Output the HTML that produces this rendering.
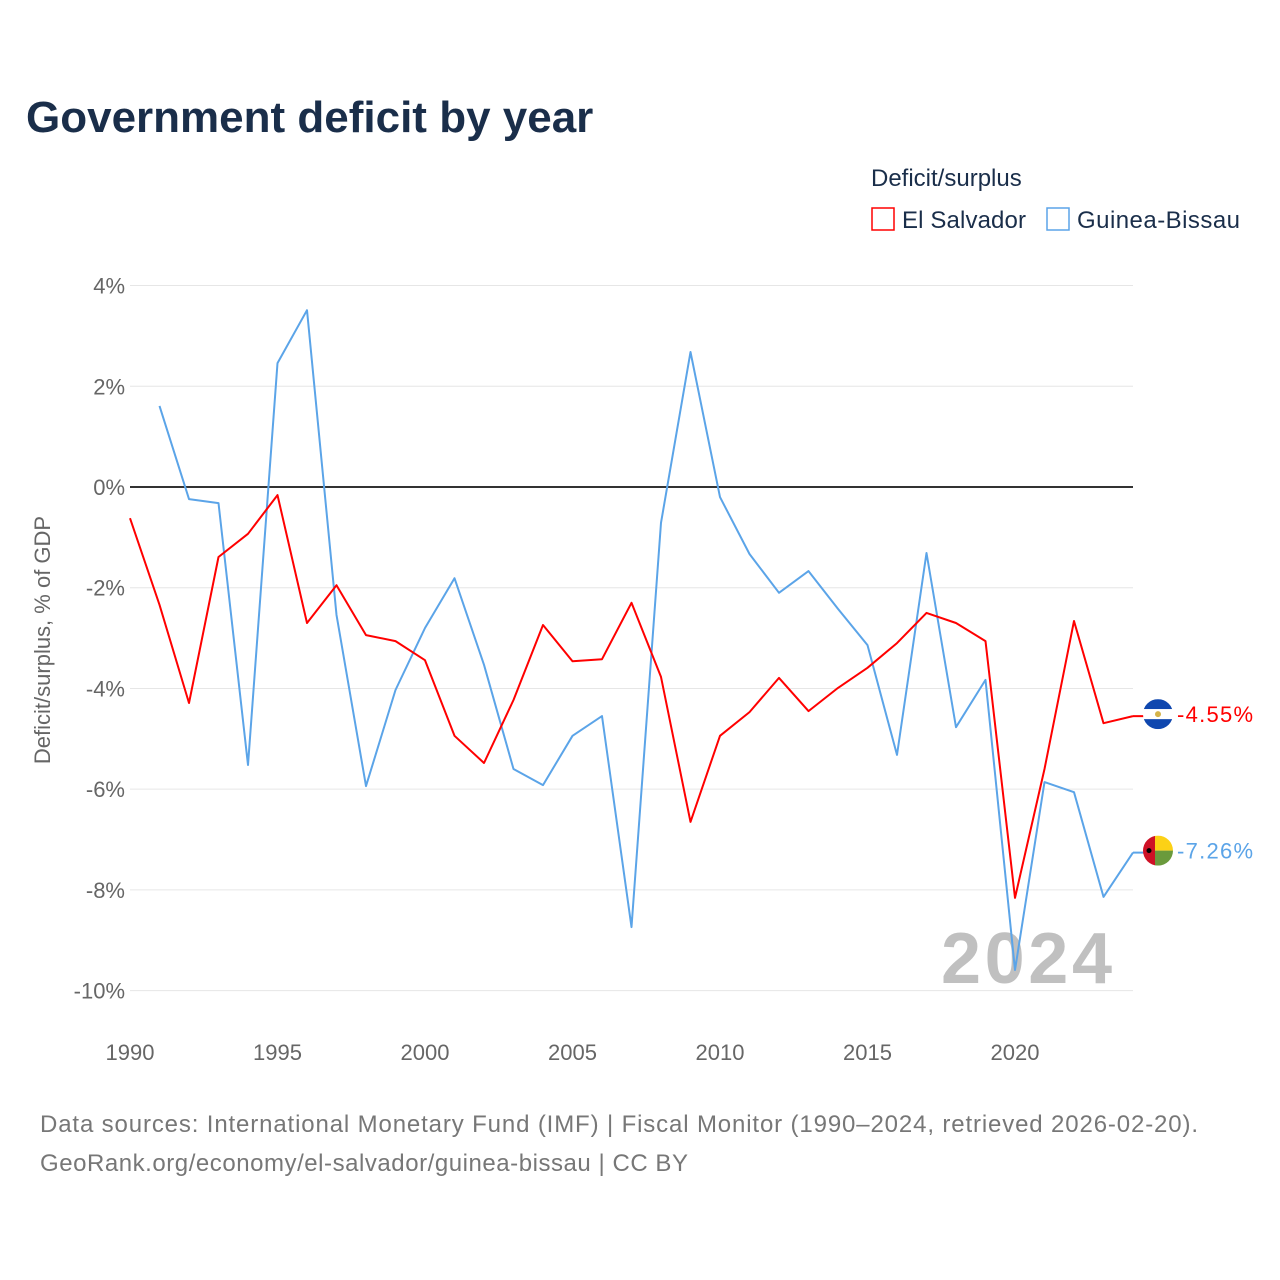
<!DOCTYPE html>
<html><head><meta charset="utf-8">
<style>
body{margin:0;background:#fff;font-family:"Liberation Sans",sans-serif;}
#wrap{position:relative;width:1280px;height:1280px;overflow:hidden;}
</style></head>
<body>
<div id="wrap">
<svg id="chart" width="1280" height="1280" xmlns="http://www.w3.org/2000/svg"></svg>
</div>
<script>
const years = [];
for (let y = 1990; y <= 2024; y++) years.push(y);
const elSalvador = [-0.62,-2.34,-4.29,-1.39,-0.93,-0.16,-2.70,-1.95,-2.94,-3.06,-3.44,-4.94,-5.48,-4.23,-2.74,-3.46,-3.42,-2.30,-3.77,-6.65,-4.94,-4.47,-3.79,-4.45,-3.99,-3.59,-3.10,-2.50,-2.70,-3.06,-8.16,-5.6,-2.66,-4.69,-4.55];
const guineaBissau = [null,1.61,-0.24,-0.32,-5.52,2.46,3.51,-2.54,-5.94,-4.03,-2.80,-1.81,-3.53,-5.60,-5.92,-4.94,-4.55,-8.74,-0.71,2.68,-0.20,-1.33,-2.10,-1.67,-2.42,-3.14,-5.32,-1.31,-4.77,-3.83,-9.59,-5.86,-6.06,-8.14,-7.26];
const yTicks = [4,2,0,-2,-4,-6,-8,-10];
const xTicks = [1990,1995,2000,2005,2010,2015,2020];

const NS = "http://www.w3.org/2000/svg";
const svg = document.getElementById('chart');
const X = v => 130 + (v - 1990) * 29.5;
const Y = v => 487 - v * 50.36;
function el(tag, attrs, parent, text) {
  const e = document.createElementNS(NS, tag);
  for (const k in attrs) e.setAttribute(k, attrs[k]);
  if (text !== undefined) e.textContent = text;
  (parent || svg).appendChild(e);
  return e;
}
let t;
t = el('text',{x:26,y:132,'font-size':44,'font-weight':'bold',fill:'#1a2e4a'},svg,'Government deficit by year');


t = el('text',{x:871,y:186,'font-size':24,fill:'#1a2e4a'},svg,'Deficit/surplus');


const lg1 = el('g',{});


el('rect',{x:872,y:208,width:22,height:22,fill:'none',stroke:'#ff0000','stroke-width':1.5},lg1);
el('text',{x:902,y:228,'font-size':24,fill:'#1a2e4a',textLength:124},lg1,'El Salvador');
const lg2 = el('g',{});


el('rect',{x:1047,y:208,width:22,height:22,fill:'none',stroke:'#5ba4e8','stroke-width':1.5},lg2);
el('text',{x:1077,y:228,'font-size':24,fill:'#1a2e4a',textLength:163},lg2,'Guinea-Bissau');

yTicks.forEach(v => {
  const g = el('line',{x1:130,x2:1133,y1:Y(v),y2:Y(v),stroke:v===0?'#333':'#e6e6e6','stroke-width':v===0?2:1});
  
  
  const tx = el('text',{x:125,y:Y(v)+8,'font-size':22,fill:'#666','text-anchor':'end'},svg,v+'%');
  
  
});
xTicks.forEach(v => {
  const tx = el('text',{x:X(v),y:1060,'font-size':22,fill:'#666','text-anchor':'middle'},svg,String(v));
  
  
});
t = el('text',{transform:'translate(50,640) rotate(-90)','font-size':22,fill:'#666','text-anchor':'middle'},svg,'Deficit/surplus, % of GDP');


t = el('text',{x:941,y:983,'font-size':72,'font-weight':'bold',fill:'#c0c0c0',textLength:171},svg,'2024');



function series(vals, color, name) {
  const pts = [];
  vals.forEach((v,i) => { if (v !== null) pts.push(X(years[i]).toFixed(1)+','+Y(v).toFixed(1)); });
  const p = el('polyline',{points:pts.join(' '),fill:'none',stroke:color,'stroke-width':2,'stroke-linejoin':'round'});
  
  
}
series(guineaBissau,'#5ba4e8','line-guinea-bissau');
series(elSalvador,'#ff0000','line-el-salvador');

function endLabel(v, color, name, flag) {
  const y = Y(v);
  el('line',{x1:1133,x2:1145,y1:y,y2:y,stroke:color,'stroke-width':2});
  const g = el('g',{});
  
  
  flag(g, 1158, y-2);
  const tx = el('text',{x:1177,y:y+6,'font-size':22,fill:color,textLength:76},svg,v.toFixed(2)+'%');
  
  
}
endLabel(elSalvador[elSalvador.length-1],'#ff0000','el-salvador',(g,cx,cy)=>{
  el('clipPath',{id:'c1'},g).appendChild(el('circle',{cx:cx,cy:cy,r:15},g));
  el('rect',{x:cx-15,y:cy-15,width:30,height:10,fill:'#0f47af','clip-path':'url(#c1)'},g);
  el('rect',{x:cx-15,y:cy-5,width:30,height:10,fill:'#fff','clip-path':'url(#c1)'},g);
  el('rect',{x:cx-15,y:cy+5,width:30,height:10,fill:'#0f47af','clip-path':'url(#c1)'},g);
  el('circle',{cx:cx,cy:cy,r:3,fill:'#d4b34a'},g);
});
endLabel(guineaBissau[guineaBissau.length-1],'#5ba4e8','guinea-bissau',(g,cx,cy)=>{
  el('clipPath',{id:'c2'},g).appendChild(el('circle',{cx:cx,cy:cy,r:15},g));
  el('rect',{x:cx-15,y:cy-15,width:12,height:30,fill:'#ce1126','clip-path':'url(#c2)'},g);
  el('rect',{x:cx-3,y:cy-15,width:18,height:15,fill:'#fcd116','clip-path':'url(#c2)'},g);
  el('rect',{x:cx-3,y:cy,width:18,height:15,fill:'#6a9a3c','clip-path':'url(#c2)'},g);
  el('circle',{cx:cx-9,cy:cy,r:2.5,fill:'#000'},g);
});

t = el('text',{x:40,y:1132,'font-size':24,fill:'#777',textLength:1158},svg,'Data sources: International Monetary Fund (IMF) | Fiscal Monitor (1990–2024, retrieved 2026-02-20).');


t = el('text',{x:40,y:1171,'font-size':24,fill:'#777',textLength:648},svg,'GeoRank.org/economy/el-salvador/guinea-bissau | CC BY');


</script>
</body></html>
